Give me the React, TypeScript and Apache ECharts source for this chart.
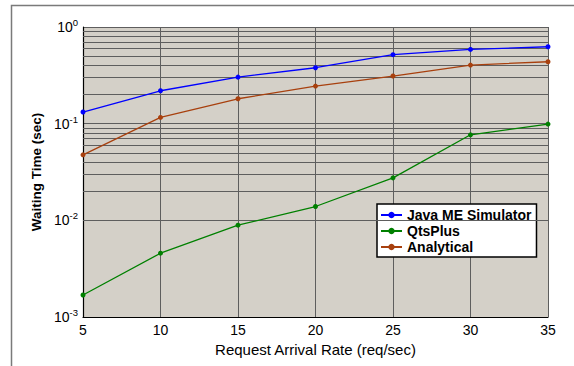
import React, { useEffect, useRef } from "react";
import * as echarts from "echarts";

// Request arrival rate (req/sec)
const arrivalRates = [5, 10, 15, 20, 25, 30, 35];

// Mean waiting time (sec) per method
const javaMeSimulator = [0.132, 0.219, 0.303, 0.379, 0.517, 0.586, 0.625];
const qtsPlus = [0.00169, 0.00457, 0.00891, 0.0139, 0.0275, 0.0767, 0.099];
const analytical = [0.0476, 0.116, 0.181, 0.245, 0.311, 0.404, 0.437];

const seriesNames = ["Java ME Simulator", "QtsPlus", "Analytical"];
const seriesColors = ["#0000ff", "#008000", "#a8400e"];

// Decades spanned by the log axis, and the 2..9 sub-divisions drawn as minor grid
const decades = [0.001, 0.01, 0.1];
const minorSteps = [2, 3, 4, 5, 6, 7, 8, 9];

const FONT = "'Liberation Sans', Arial, Helvetica, sans-serif";

export default function App() {
  const ref = useRef<HTMLDivElement>(null);

  useEffect(() => {
    if (!ref.current) return;
    const chart = echarts.init(ref.current, undefined, { renderer: "svg" });

    const pair = (vals: number[]) => arrivalRates.map((x, i) => [x, vals[i]]);
    const minorValues: number[] = [];
    decades.forEach((d) => minorSteps.forEach((k) => minorValues.push(+(k * d).toPrecision(3))));

    const gridColor = "#5e5e5e";

    const lineSeries = [javaMeSimulator, qtsPlus, analytical].map((vals, i) => ({
      name: seriesNames[i],
      type: "line" as const,
      data: pair(vals),
      z: 5,
      symbol: "circle",
      symbolSize: 5,
      showSymbol: true,
      color: seriesColors[i],
      itemStyle: { color: seriesColors[i] },
      lineStyle: { color: seriesColors[i], width: 1.3 },
    }));

    chart.setOption({
      animation: false,
      backgroundColor: "#ffffff",
      textStyle: { fontFamily: FONT },
      graphic: [
        {
          type: "rect",
          z: -10,
          silent: true,
          shape: { x: 11.5, y: 5.5, width: 700, height: 500 },
          style: { fill: "none", stroke: "#7a7a7a", lineWidth: 1.5 },
        },
      ],
      grid: {
        left: 83,
        top: 27,
        right: 26,
        bottom: 49,
        show: true,
        backgroundColor: "#d4d0c8",
        borderWidth: 0,
      },
      legend: {
        data: seriesNames,
        orient: "vertical",
        left: 377,
        top: 204,
        backgroundColor: "#ffffff",
        borderColor: "#000000",
        borderWidth: 1.5,
        padding: [4, 5, 3, 3],
        itemGap: 2,
        itemWidth: 21,
        itemHeight: 8,
        textStyle: {
          fontFamily: FONT,
          fontWeight: "bold",
          fontSize: 14,
          color: "#000",
        },
      },
      xAxis: {
        type: "value",
        min: 5,
        max: 35,
        interval: 5,
        name: "Request Arrival Rate (req/sec)",
        nameLocation: "middle",
        nameGap: 22,
        nameTextStyle: { fontFamily: FONT, fontSize: 15, color: "#000" },
        axisLine: { show: true, lineStyle: { color: "#000", width: 1.2 } },
        axisTick: { show: false },
        axisLabel: { fontFamily: FONT, fontSize: 14, color: "#000", margin: 6 },
        splitLine: { show: true, lineStyle: { color: gridColor, width: 1 } },
      },
      yAxis: {
        type: "log",
        logBase: 10,
        min: 0.001,
        max: 1,
        name: "Waiting Time (sec)",
        nameLocation: "middle",
        nameGap: 33,
        nameTextStyle: {
          fontFamily: FONT,
          fontSize: 13.5,
          fontWeight: "bold",
          color: "#000",
        },
        axisLine: { show: true, lineStyle: { color: "#000", width: 1.2 } },
        axisTick: { show: false },
        axisLabel: {
          margin: 5,
          formatter: (v: number) => {
            const exp = Math.round(Math.log10(v));
            return `{b|10}{s|${exp}}`;
          },
          rich: {
            b: { fontFamily: FONT, fontSize: 14, color: "#000" },
            s: {
              fontFamily: FONT,
              fontSize: 9.5,
              color: "#000",
              padding: [0, 0, 9, 0],
            },
          },
        },
        splitLine: { show: true, lineStyle: { color: gridColor, width: 1 } },
      },
      series: [
        {
          name: "minor-grid",
          type: "line",
          data: [],
          z: 1,
          silent: true,
          markLine: {
            silent: true,
            symbol: "none",
            label: { show: false },
            lineStyle: { color: gridColor, width: 1, type: "solid" },
            data: minorValues.map((v) => ({ yAxis: v })),
          },
        },
        ...lineSeries,
      ],
    });

    return () => chart.dispose();
  }, []);

  return (
    <div
      ref={ref}
      style={{ position: "fixed", left: 0, top: 0, width: 574, height: 366 }}
    />
  );
}
